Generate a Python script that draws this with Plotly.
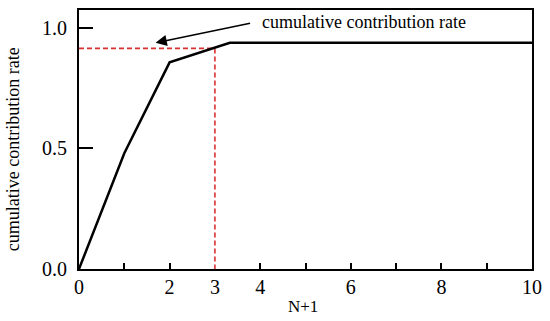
import plotly.graph_objects as go

# data
n_plus_1 = [0, 1, 2, 3.33, 10]
cum_rate = [0, 0.48, 0.857, 0.938, 0.938]

sel_n = 3
sel_rate = 0.915

tick_positions = [1, 2, 4, 5, 6, 7, 8, 9]
label_positions = [0, 2, 3, 4, 6, 8, 10]
label_text = ["0", "2", "3", "4", "6", "8", "10"]
y_tickvals = [0, 0.5, 1.0]
y_ticktext = ["0.0", "0.5", "1.0"]

FONT = "Liberation Serif"

fig = go.Figure()
# red dashed guide lines
fig.add_trace(go.Scatter(x=[0, sel_n, sel_n], y=[sel_rate, sel_rate, 0], mode="lines",
                         line=dict(color="#d93030", width=1.6, dash="5px,3px"), showlegend=False,
                         hoverinfo="skip"))
fig.add_trace(go.Scatter(x=n_plus_1, y=cum_rate, mode="lines",
                         line=dict(color="black", width=2.5), showlegend=False))
# invisible trace for overlay axis
fig.add_trace(go.Scatter(x=[0, 10], y=[0, 0], xaxis="x2", mode="lines",
                         line=dict(width=0), showlegend=False, hoverinfo="skip"))

fig.update_layout(
    width=550, height=321,
    margin=dict(l=79, r=9, t=8, b=52),
    plot_bgcolor="white", paper_bgcolor="white",
    font=dict(family=FONT, color="black"),
    xaxis=dict(range=[0, 10], showgrid=False, zeroline=False, showline=True, mirror=True,
               linecolor="black", linewidth=2, ticks="inside", ticklen=6, tickwidth=2,
               tickcolor="black", tickvals=tick_positions, showticklabels=False),
    xaxis2=dict(range=[0, 10], overlaying="x", anchor="y", side="bottom", showgrid=False,
                zeroline=False, showline=False, ticks="", tickvals=label_positions,
                ticktext=label_text, tickfont=dict(family=FONT, size=20, color="black"),
                ticklabelstandoff=4),
    yaxis=dict(range=[0, 1.074], showgrid=False, zeroline=False, showline=True, mirror=True,
               linecolor="black", linewidth=2, ticks="inside", ticklen=14, tickwidth=2,
               tickcolor="black", tickvals=y_tickvals, ticktext=y_ticktext,
               tickfont=dict(family=FONT, size=20, color="black"), ticklabelstandoff=6),
    annotations=[
        dict(x=6.3, y=1.025, xref="x", yref="y", text="cumulative contribution rate",
             showarrow=False, font=dict(family=FONT, size=18, color="black")),
        dict(x=1.69, y=0.938, xref="x", yref="y", ax=3.81, ay=1.02, axref="x", ayref="y",
             text="", showarrow=True, arrowhead=2, arrowsize=1.5, arrowwidth=1.5,
             arrowcolor="black"),
        dict(x=-0.145, y=0.4636, xref="paper", yref="paper", text="cumulative contribution rate",
             textangle=-90, showarrow=False, xanchor="center", yanchor="middle",
             font=dict(family=FONT, size=18, color="black")),
        dict(x=0.4935, y=-0.1456, xref="paper", yref="paper", text="N+1",
             showarrow=False, xanchor="center", yanchor="middle",
             font=dict(family=FONT, size=17, color="black")),
    ],
)

fig.write_html("out.html", config={"displayModeBar": False},
               post_script="document.body.style.margin='0';document.body.style.padding='0';")
